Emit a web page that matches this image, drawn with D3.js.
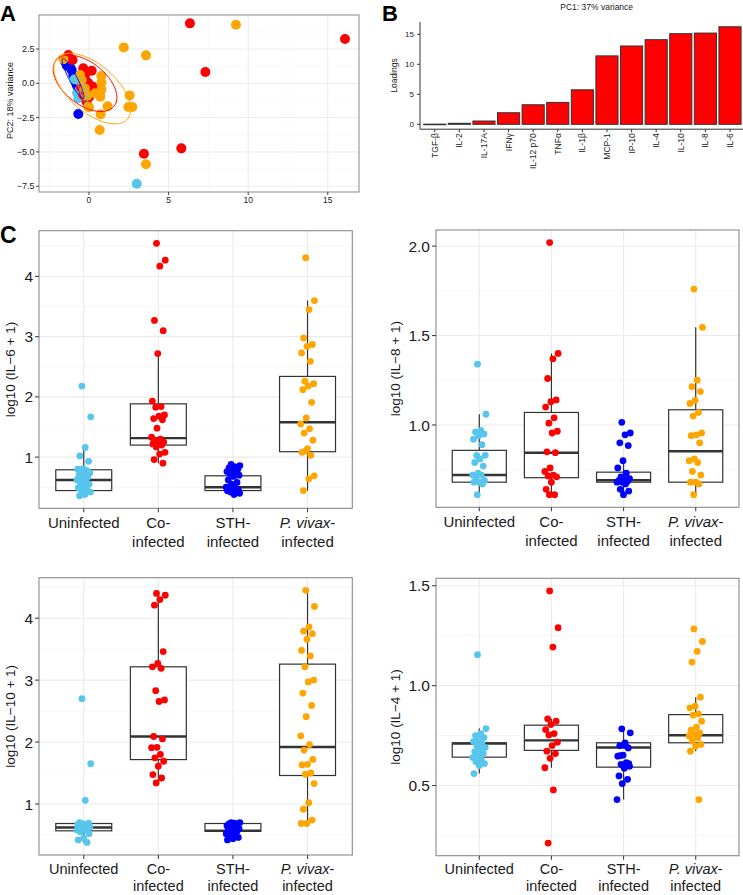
<!DOCTYPE html>
<html><head><meta charset="utf-8">
<script src="https://cdn.jsdelivr.net/npm/d3@7"></script>
<style>body{margin:0;background:#fff}svg{display:block}text{font-family:"Liberation Sans",Arial,Helvetica,sans-serif}</style>
</head><body><svg id="c" width="743" height="895"></svg>
<script>
// ---------------- DATA ----------------
const groups = ["Uninfected","Co-infected","STH-infected","P. vivax-infected"];
const groupColors = ["#58C6EC","#FF0000","#0000FF","#FFA500"];

// Panel A: PCA scores [PC1, PC2]
const pcaUninfected = [[3.0,-7.32],[-0.67,-1.09],[-0.5,-0.9],[-0.6,-0.5],[-0.45,-0.2],[-0.55,0.1],[-0.75,-0.7],[-0.9,0.3]];
const pcaSTH = [[-1.51,1.6],[-1.4,1.3],[-1.3,1.46],[-1.2,1.2],[-1.09,0.97],[-0.98,0.6],[-0.88,0.24],[-0.8,0.0],[-0.77,-0.12],[-0.7,-0.3],[-0.67,-0.49],[-0.57,-0.85],[-0.67,-2.24]];
const pcaCo = [[6.34,4.37],[16.08,3.23],[7.31,0.82],[3.45,-5.13],[5.8,-4.74],[-1.3,2.06],[-1.03,1.7],[-0.36,1.09],[0.17,0.92],[-0.25,0.6],[-0.04,0.0],[0.06,-0.49],[-0.15,-1.34],[0.23,-0.24],[0.02,-0.97],[-0.36,-0.85],[-0.1,0.07],[-0.5,-0.3],[-0.2,-0.6]];
const pcaPv = [[9.23,4.27],[2.18,2.62],[3.58,2.04],[2.55,-0.88],[2.47,-1.73],[2.72,-1.73],[1.17,-1.67],[0.73,-2.26],[0.67,-3.4],[3.58,-5.9],[0.77,0.53],[0.78,0.05],[0.78,-0.47],[0.71,-0.97],[0.38,-0.73],[-0.04,-1.7],[-0.46,0.24],[-1.6,1.75],[-0.56,0.6],[-0.25,-0.37],[-0.1,-0.9],[0.0,-1.74]];
// 95% ellipses: centre, major and minor semi-axis vectors (data units), group order
const ellipseCenter = [[-0.4,-0.45],[-0.25,0.0],[-1.0,0.35],[0.21,-0.38]];
const ellipseMajor  = [[0.25,-0.95],[1.83,-1.66],[0.65,-1.45],[2.21,-2.22]];
const ellipseMinor  = [[-0.18,-0.064],[-0.81,-1.21],[-0.22,-0.134],[-0.98,-1.30]];
const pcaXTicks = [0,5,10,15];
const pcaYTicks = [-7.5,-5,-2.5,0,2.5];
const pcaXDomain = [-3.14,16.96];
const pcaYDomain = [-7.92,4.98];

// Panel B: PC1 loadings
const cytokines = ["TGF-β","IL-2","IL-17A","IFNγ","IL-12 p70","TNFα","IL-1β","MCP-1","IP-10","IL-4","IL-10","IL-8","IL-6"];
const loadings  = [0.03,0.17,0.55,1.93,3.26,3.65,5.75,11.4,13.05,14.1,15.1,15.2,16.25];
const loadTicks = [0,5,10,15];

// Panel C: log10(cytokine + 1) per group [Uninfected, Co, STH, P. vivax]
const il6Uninfected = [2.18,1.67,1.16,1.02,0.93,0.81,0.80,0.78,0.76,0.74,0.72,0.70,0.67,0.65,0.62,0.60,0.58,0.55,0.52,0.49,0.46,0.44,0.42,0.38,0.36];
const il6Co = [4.55,4.27,4.17,3.27,3.10,2.72,1.93,1.84,1.83,1.70,1.68,1.64,1.62,1.48,1.33,1.30,1.28,1.25,1.24,1.22,1.20,1.17,1.08,1.05,0.96,0.90];
const il6STH = [0.88,0.86,0.84,0.82,0.80,0.78,0.76,0.74,0.72,0.70,0.68,0.62,0.58,0.55,0.50,0.49,0.47,0.46,0.45,0.44,0.43,0.42,0.40,0.38];
const il6Pv = [4.31,3.60,3.45,2.98,2.87,2.84,2.73,2.59,2.26,2.22,2.18,2.12,1.91,1.65,1.55,1.47,1.40,1.28,1.14,1.08,1.03,1.10,0.69,0.64,0.445];
const il6Box = [[0.36,0.445,0.62,0.79,1.16],[0.90,1.20,1.315,1.885,2.72],[0.38,0.445,0.50,0.69,0.88],[0.445,1.09,1.58,2.34,3.60]];
const il6Ticks = [1,2,3,4];

const il8Uninfected = [1.34,1.06,0.97,0.96,0.95,0.94,0.92,0.89,0.83,0.83,0.81,0.79,0.77,0.73,0.72,0.72,0.71,0.69,0.68,0.68,0.67,0.61];
const il8Co = [2.02,1.40,1.37,1.26,1.14,1.13,1.10,1.04,1.01,0.965,0.955,0.85,0.845,0.76,0.74,0.72,0.715,0.71,0.68,0.64,0.61,0.61];
const il8STH = [1.015,0.955,0.945,0.90,0.885,0.80,0.76,0.73,0.71,0.70,0.695,0.69,0.685,0.68,0.68,0.67,0.64,0.63,0.61];
const il8Pv = [1.76,1.546,1.25,1.215,1.187,1.137,1.12,1.07,1.05,0.955,0.945,0.94,0.90,0.81,0.80,0.79,0.74,0.72,0.68,0.68,0.67,0.61];
const il8Box = [[0.61,0.68,0.72,0.858,1.06],[0.61,0.705,0.845,1.07,1.40],[0.61,0.68,0.691,0.736,0.80],[0.61,0.68,0.853,1.085,1.546]];
const il8Ticks = [1.0,1.5,2.0];

const il10Uninfected = [2.70,1.65,1.06,0.70,0.69,0.68,0.67,0.66,0.65,0.63,0.62,0.61,0.60,0.59,0.58,0.57,0.55,0.52,0.45,0.42,0.38];
const il10Co = [4.40,4.37,4.30,4.21,3.46,3.27,3.215,3.19,2.83,2.68,2.655,2.09,2.05,1.915,1.91,1.80,1.745,1.69,1.61,1.475,1.42,1.34];
const il10STH = [0.70,0.70,0.69,0.68,0.67,0.66,0.65,0.64,0.62,0.60,0.58,0.57,0.56,0.55,0.52,0.50,0.48,0.46,0.44,0.42];
const il10Pv = [4.45,4.19,3.86,3.79,3.75,3.66,3.48,3.39,3.215,3.0,2.97,2.79,2.59,2.41,2.10,1.96,1.87,1.72,1.64,1.63,1.50,1.48,1.33,1.02,0.915,0.74,0.685,0.685];
const il10Box = [[0.38,0.567,0.62,0.685,0.70],[1.34,1.717,2.09,3.215,4.40],[0.42,0.56,0.567,0.685,0.70],[0.685,1.46,1.92,3.258,4.45]];
const il10Ticks = [1,2,3,4];

const il4Uninfected = [1.155,0.785,0.76,0.75,0.74,0.73,0.72,0.71,0.70,0.69,0.68,0.67,0.66,0.65,0.64,0.63,0.62,0.61,0.60,0.56];
const il4Co = [1.474,1.29,1.193,0.834,0.822,0.805,0.78,0.76,0.753,0.717,0.70,0.672,0.66,0.636,0.589,0.478,0.212];
const il4STH = [0.784,0.764,0.714,0.70,0.688,0.652,0.647,0.614,0.606,0.597,0.586,0.548,0.531,0.51,0.43,0.70,0.65,0.61];
const il4Pv = [1.284,1.221,1.171,1.118,0.942,0.897,0.889,0.859,0.852,0.822,0.792,0.777,0.764,0.756,0.748,0.739,0.722,0.706,0.697,0.672,0.43];
const il4Box = [[0.56,0.642,0.71,0.714,0.785],[0.589,0.676,0.726,0.802,0.834],[0.43,0.592,0.69,0.714,0.784],[0.672,0.714,0.752,0.855,0.942]];
const il4Ticks = [0.5,1.0,1.5];

// ---------------- DRAW ----------------
const svg = d3.select("#c");
svg.append("rect").attr("width",743).attr("height",895).attr("fill","#fff");
const GRID = "#EBEBEB", MINOR = "#F5F5F5", BORDER = "#8A8A8A", TICK = "#444", TXT = "#1a1a1a";
const fmtMinus = s => String(s).replace("-", "\u2212");

function panelLetter(t, x, y, fs){
  svg.append("text").attr("x",x).attr("y",y).attr("font-size",fs).attr("font-weight","bold").attr("fill","#000").text(t);
}
panelLetter("A",0,20.5,22); panelLetter("B",382,20.5,22); panelLetter("C",0,243,23);

// ----- Panel A -----
(function(){
  const L=39,R=359,T=15,B=192;
  const x = d3.scaleLinear().domain(pcaXDomain).range([L,R]);
  const y = d3.scaleLinear().domain(pcaYDomain).range([B,T]);
  const g = svg.append("g");
  const xStep = pcaXTicks[1]-pcaXTicks[0], yStep = pcaYTicks[1]-pcaYTicks[0];
  const xMinor = d3.range(pcaXTicks[0]-xStep/2, pcaXTicks[pcaXTicks.length-1]+xStep, xStep).filter(v=>v>pcaXDomain[0]&&v<pcaXDomain[1]);
  const yMinor = d3.range(pcaYTicks[0]-yStep/2, pcaYTicks[pcaYTicks.length-1]+yStep, yStep).filter(v=>v>pcaYDomain[0]&&v<pcaYDomain[1]);
  g.selectAll(".xm").data(xMinor).join("line").attr("x1",d=>x(d)).attr("x2",d=>x(d)).attr("y1",T).attr("y2",B).attr("stroke",MINOR).attr("stroke-width",0.6);
  g.selectAll(".ym").data(yMinor).join("line").attr("x1",L).attr("x2",R).attr("y1",d=>y(d)).attr("y2",d=>y(d)).attr("stroke",MINOR).attr("stroke-width",0.6);
  g.selectAll(".xg").data(pcaXTicks).join("line").attr("x1",d=>x(d)).attr("x2",d=>x(d)).attr("y1",T).attr("y2",B).attr("stroke",GRID).attr("stroke-width",1);
  g.selectAll(".yg").data(pcaYTicks).join("line").attr("x1",L).attr("x2",R).attr("y1",d=>y(d)).attr("y2",d=>y(d)).attr("stroke",GRID).attr("stroke-width",1);
  const sets = [[pcaSTH,2],[pcaUninfected,0],[pcaCo,1],[pcaPv,3]];
  sets.forEach(([pts,gi])=>{
    g.append("g").selectAll("circle").data(pts).join("circle")
      .attr("cx",d=>x(d[0])).attr("cy",d=>y(d[1])).attr("r",5).attr("fill",groupColors[gi]);
  });
  const ts = d3.range(0, 2*Math.PI+0.001, Math.PI/60);
  const line = d3.line().x(d=>x(d[0])).y(d=>y(d[1]));
  ellipseCenter.forEach((c,i)=>{
    const a = ellipseMajor[i], b = ellipseMinor[i];
    const pts = ts.map(t=>[c[0]+a[0]*Math.cos(t)+b[0]*Math.sin(t), c[1]+a[1]*Math.cos(t)+b[1]*Math.sin(t)]);
    g.append("path").attr("d",line(pts)).attr("fill","none").attr("stroke",groupColors[i]).attr("stroke-width",1);
  });
  g.append("rect").attr("x",L).attr("y",T).attr("width",R-L).attr("height",B-T).attr("fill","none").attr("stroke",BORDER).attr("stroke-width",1);
  g.selectAll(".xt").data(pcaXTicks).join("line").attr("x1",d=>x(d)).attr("x2",d=>x(d)).attr("y1",B).attr("y2",B+3).attr("stroke",TICK);
  g.selectAll(".yt").data(pcaYTicks).join("line").attr("x1",L-3).attr("x2",L).attr("y1",d=>y(d)).attr("y2",d=>y(d)).attr("stroke",TICK);
  g.selectAll(".xl").data(pcaXTicks).join("text").attr("x",d=>x(d)).attr("y",B+11).attr("text-anchor","middle").attr("font-size",8.5).attr("fill",TXT).text(d=>d);
  g.selectAll(".yl").data(pcaYTicks).join("text").attr("x",L-4.5).attr("y",d=>y(d)).attr("dy","0.35em").attr("text-anchor","end").attr("font-size",9).attr("fill",TXT).text(d=>fmtMinus(d3.format(".1f")(d)));
  g.append("text").attr("transform",`translate(13,${(T+B)/2-3}) rotate(-90)`).attr("text-anchor","middle").attr("font-size",9).attr("fill",TXT).text("PC2: 18% variance");
})();

// ----- Panel B -----
(function(){
  const L=420, R=744.75, yTop=21.9, yBot=129.2;
  const x = d3.scaleBand().domain(cytokines).range([L,R]).paddingInner(0.1).paddingOuter(0.15);
  const mx = d3.max(loadings), pad = mx*0.05;
  const y = d3.scaleLinear().domain([-pad, mx+pad]).range([yBot,yTop]);
  const g = svg.append("g");
  g.selectAll("rect.bar").data(cytokines).join("rect")
    .attr("x",d=>x(d)).attr("width",x.bandwidth())
    .attr("y",(d,i)=>y(loadings[i])).attr("height",(d,i)=>Math.max(0.6,y(0)-y(loadings[i])))
    .attr("fill","#FF0000").attr("stroke","#333").attr("stroke-width",1);
  g.append("line").attr("x1",L).attr("x2",743).attr("y1",yBot).attr("y2",yBot).attr("stroke","#333").attr("stroke-width",1);
  g.append("line").attr("x1",L).attr("x2",L).attr("y1",yTop).attr("y2",yBot).attr("stroke","#333").attr("stroke-width",1);
  g.selectAll(".yt").data(loadTicks).join("line").attr("x1",L-3).attr("x2",L).attr("y1",d=>y(d)).attr("y2",d=>y(d)).attr("stroke","#333");
  g.selectAll(".yl").data(loadTicks).join("text").attr("x",L-6).attr("y",d=>y(d)).attr("dy","0.35em").attr("text-anchor","end").attr("font-size",8).attr("fill",TXT).text(d=>d);
  g.selectAll(".xt").data(cytokines).join("line").attr("x1",d=>x(d)+x.bandwidth()/2).attr("x2",d=>x(d)+x.bandwidth()/2).attr("y1",yBot).attr("y2",yBot+3).attr("stroke","#333");
  g.selectAll(".xl").data(cytokines).join("text")
    .attr("transform",d=>`translate(${x(d)+x.bandwidth()/2},${yBot+4}) rotate(-90)`)
    .attr("dy","0.35em").attr("text-anchor","end").attr("font-size",8.5).attr("fill",TXT).text(d=>d);
  g.append("text").attr("transform",`translate(397,${(yTop+yBot)/2}) rotate(-90)`).attr("text-anchor","middle").attr("font-size",8.5).attr("fill",TXT).text("Loadings");
  g.append("text").attr("x",596.7).attr("y",10).attr("text-anchor","middle").attr("font-size",8.5).attr("fill",TXT).text("PC1: 37% variance");
})();

// ----- Panel C -----
function jitter(i){ const f = (i*0.6180339887 + 0.37) % 1; return (f-0.5)*0.19; }

function boxPanel(cfg){
  const {L,R,T,B,series,boxes,ticks,label,titleX,tickFmt,lab1,lab2,labFs} = cfg;
  const all = series.flat();
  const [mn,mx] = d3.extent(all);
  const pad = (mx-mn)*0.05;
  const dom = [mn-pad, mx+pad];
  const y = d3.scaleLinear().domain(dom).range([B,T]);
  const x = d3.scalePoint().domain(groups).range([L,R]).padding(0.6);
  const step = x.step();
  const g = svg.append("g");
  const tStep = ticks[1]-ticks[0];
  const minor = d3.range(ticks[0]-tStep/2, ticks[ticks.length-1]+tStep, tStep).filter(v=>v>dom[0]&&v<dom[1]);
  g.selectAll(".ym").data(minor).join("line").attr("x1",L).attr("x2",R).attr("y1",d=>y(d)).attr("y2",d=>y(d)).attr("stroke",MINOR).attr("stroke-width",0.8);
  g.selectAll(".yg").data(ticks).join("line").attr("x1",L).attr("x2",R).attr("y1",d=>y(d)).attr("y2",d=>y(d)).attr("stroke",GRID).attr("stroke-width",1.1);
  g.selectAll(".xg").data(groups).join("line").attr("x1",d=>x(d)).attr("x2",d=>x(d)).attr("y1",T).attr("y2",B).attr("stroke",GRID).attr("stroke-width",1.1);
  // boxes
  groups.forEach((gr,i)=>{
    const b = boxes[i], cx = x(gr), hw = step*0.375;
    g.append("line").attr("x1",cx).attr("x2",cx).attr("y1",y(b[4])).attr("y2",y(b[3])).attr("stroke","#333").attr("stroke-width",1.2);
    g.append("line").attr("x1",cx).attr("x2",cx).attr("y1",y(b[1])).attr("y2",y(b[0])).attr("stroke","#333").attr("stroke-width",1.2);
    g.append("rect").attr("x",cx-hw).attr("width",2*hw).attr("y",y(b[3])).attr("height",y(b[1])-y(b[3]))
      .attr("fill","#fff").attr("stroke","#333").attr("stroke-width",1.2);
    g.append("line").attr("x1",cx-hw).attr("x2",cx+hw).attr("y1",y(b[2])).attr("y2",y(b[2])).attr("stroke","#333").attr("stroke-width",2.4);
  });
  // points
  groups.forEach((gr,i)=>{
    g.append("g").selectAll("circle").data(series[i]).join("circle")
      .attr("cx",(d,j)=>x(gr)+jitter(j)*step).attr("cy",d=>y(d)).attr("r",3.4).attr("fill",groupColors[i]);
  });
  g.append("rect").attr("x",L).attr("y",T).attr("width",R-L).attr("height",B-T).attr("fill","none").attr("stroke",BORDER).attr("stroke-width",1.1);
  g.selectAll(".yt").data(ticks).join("line").attr("x1",L-4).attr("x2",L).attr("y1",d=>y(d)).attr("y2",d=>y(d)).attr("stroke",TICK).attr("stroke-width",1.1);
  g.selectAll(".xt").data(groups).join("line").attr("x1",d=>x(d)).attr("x2",d=>x(d)).attr("y1",B).attr("y2",B+4).attr("stroke",TICK).attr("stroke-width",1.1);
  g.selectAll(".yl").data(ticks).join("text").attr("x",L-6).attr("y",d=>y(d)).attr("dy","0.36em").attr("text-anchor","end")
    .attr("font-size",15.5).attr("fill",TXT).text(d=>tickFmt(d));
  // category labels
  const lines = {"Uninfected":[["Uninfected"]],"Co-infected":[["Co-"],["infected"]],"STH-infected":[["STH-"],["infected"]],"P. vivax-infected":[["P. vivax","-"],["infected"]]};
  groups.forEach(gr=>{
    lines[gr].forEach((ln,k)=>{
      const t = g.append("text").attr("x",x(gr)).attr("y",B+(k===0?lab1:lab2)).attr("text-anchor","middle").attr("font-size",labFs).attr("fill",TXT);
      if(ln.length===2){ t.append("tspan").attr("font-style","italic").text(ln[0]); t.append("tspan").text(ln[1]); }
      else t.text(ln[0]);
    });
  });
  g.append("text").attr("transform",`translate(${titleX},${(T+B)/2}) rotate(-90)`).attr("text-anchor","middle").attr("font-size",13.5).attr("fill",TXT).text(label);
}

const f0 = d=>d3.format("d")(d), f1 = d=>d3.format(".1f")(d);
boxPanel({L:39,R:352.3,T:230.7,B:508.3,series:[il6Uninfected,il6Co,il6STH,il6Pv],boxes:il6Box,ticks:il6Ticks,label:"log10 (IL\u22126 + 1)",titleX:15,tickFmt:f0,lab1:20,lab2:39,labFs:15});
boxPanel({L:436,R:739,T:230,B:507.3,series:[il8Uninfected,il8Co,il8STH,il8Pv],boxes:il8Box,ticks:il8Ticks,label:"log10 (IL\u22128 + 1)",titleX:400,tickFmt:f1,lab1:20,lab2:39,labFs:15});
boxPanel({L:39,R:352.3,T:577.7,B:855,series:[il10Uninfected,il10Co,il10STH,il10Pv],boxes:il10Box,ticks:il10Ticks,label:"log10 (IL\u221210 + 1)",titleX:15,tickFmt:f0,lab1:19,lab2:36,labFs:14.5});
boxPanel({L:436,R:739,T:578.3,B:855.7,series:[il4Uninfected,il4Co,il4STH,il4Pv],boxes:il4Box,ticks:il4Ticks,label:"log10 (IL\u22124 + 1)",titleX:400,tickFmt:f1,lab1:18.5,lab2:35.3,labFs:14.5});
</script></body></html>
